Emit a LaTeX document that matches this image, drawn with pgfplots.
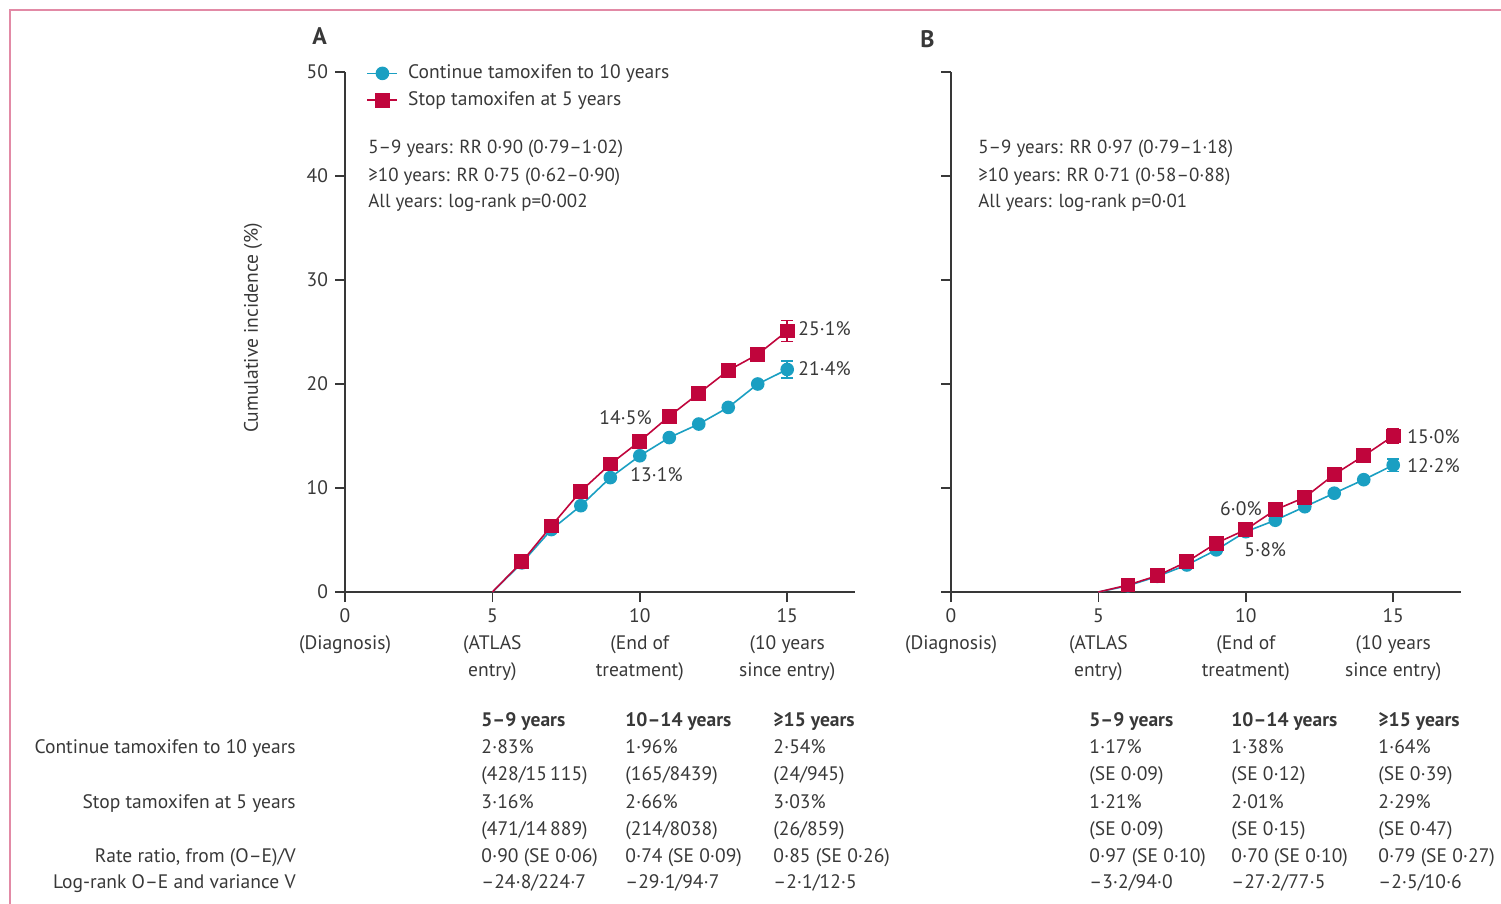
\documentclass[border=0pt]{standalone}
\usepackage{fontspec}
\setmainfont{PT Sans}
\usepackage{pgfplots}
\pgfplotsset{compat=1.18}
\definecolor{cblue}{HTML}{1A9FC2}
\definecolor{cred}{HTML}{C0053C}
\definecolor{txt}{HTML}{383838}
\definecolor{framec}{HTML}{E28AA6}
\newcommand{\fs}{\fontsize{9.8}{13.5}\selectfont}
\newcommand{\fa}{\fontsize{9.5}{13.5}\selectfont}
\pgfplotsset{
  myax/.style={
    scale only axis, width=255bp, height=260bp,
    xmin=0, xmax=17.3, ymin=0, ymax=50,
    axis lines=left, axis line style={txt, -, line width=0.8bp},
    tick align=outside, major tick length=5bp,
    tick style={txt, line width=0.8bp},
    xtick={0,5,10,15}, ytick={0,10,20,30,40,50},
    xticklabels={{0\\(Diagnosis)},{5\\(ATLAS\\entry)},{10\\(End of\\treatment)},{15\\(10 years\\since entry)}},
    xticklabel style={align=center, font=\fs, text=txt},
    yticklabel style={font=\fs, text=txt},
    clip=false, anchor=south west,
    legend image code/.code={\draw[##1, mark indices={2}] plot coordinates {(0bp,0bp) (7.5bp,0bp) (15bp,0bp)};},
  },
  blueplot/.style={cblue, line width=0.8bp, mark=*, mark size=3bp, mark indices={2,3,4,5,6,7,8,9,10,11}, mark options={fill=cblue, draw=cblue, solid}},
  redplot/.style={cred, line width=0.8bp, mark=square*, mark size=3.3bp, mark indices={2,3,4,5,6,7,8,9,10,11}, mark options={fill=cred, draw=cred, solid}},
  errb/.style={draw=none, mark=none, forget plot, error bars/.cd, y dir=both, y explicit, error bar style={#1, line width=0.8bp}, error mark options={#1, rotate=90, mark size=3bp, line width=0.8bp}},
}
\begin{document}
\begin{tikzpicture}[x=1bp,y=1bp]
\useasboundingbox (0,0) rectangle (750.5,-452);
\draw[framec, line width=1.2bp] (5,-452) -- (5,-5) -- (750.5,-5);

% Panel A
\begin{axis}[myax, at={(172.5bp,-296bp)},
  yticklabels={0,10,20,30,40,50},
  legend style={at={(axis cs:0.72,51.1)}, anchor=north west, draw=none, fill=none, font=\fs, text=txt, row sep=1bp, inner sep=0pt,
    /tikz/every odd column/.append style={column sep=3bp}},
  legend cell align=left]
\addplot[errb=cblue] coordinates {(15,21.4) +- (0,0.8)};
\addplot[errb=cred] coordinates {(15,25.1) +- (0,1.0)};
\addplot[blueplot] coordinates {(5,0) (6,2.8) (7,6.0) (8,8.3) (9,11.0) (10,13.1) (11,14.85) (12,16.15) (13,17.75) (14,20.0) (15,21.4)};
\addlegendentry{Continue tamoxifen to 10 years}
\addplot[redplot] coordinates {(5,0) (6,2.9) (7,6.35) (8,9.7) (9,12.3) (10,14.5) (11,16.9) (12,19.1) (13,21.3) (14,22.85) (15,25.1)};
\addlegendentry{Stop tamoxifen at 5 years}
\end{axis}

% Panel B
\begin{axis}[myax, at={(475.5bp,-296bp)}, yticklabels={{},{},{},{},{},{}}]
\addplot[errb=cblue] coordinates {(15,12.2) +- (0,0.6)};
\addplot[errb=cred] coordinates {(15,15.0) +- (0,0.7)};
\addplot[blueplot] coordinates {(5,0) (6,0.6) (7,1.5) (8,2.6) (9,4.05) (10,5.8) (11,6.9) (12,8.2) (13,9.5) (14,10.8) (15,12.2)};
\addplot[redplot] coordinates {(5,0) (6,0.67) (7,1.57) (8,2.9) (9,4.7) (10,6.0) (11,7.9) (12,9.1) (13,11.3) (14,13.1) (15,15.0)};
\end{axis}

\begin{scope}[every node/.style={text=txt, font=\fs, inner sep=0pt}]
% panel letters
\node[anchor=base west, font=\fontsize{12}{14}\selectfont\bfseries] at (156,-22.5) {A};
\node[anchor=base west, font=\fontsize{12}{14}\selectfont\bfseries] at (460,-24) {B};
% y label
\node[rotate=90] at (126.5,-164) {Cumulative incidence (\%)};
% annotations A
\node[anchor=base west, font=\fa] at (184,-77) {5–9 years: RR 0·90 (0·79–1·02)};
\node[anchor=base west, font=\fa] at (184,-91) {≥10 years: RR 0·75 (0·62–0·90)};
\node[anchor=base west, font=\fa] at (184,-104) {All years: log-rank p=0·002};
% annotations B
\node[anchor=base west, font=\fa] at (489,-77) {5–9 years: RR 0·97 (0·79–1·18)};
\node[anchor=base west, font=\fa] at (489,-91) {≥10 years: RR 0·71 (0·58–0·88)};
\node[anchor=base west, font=\fa] at (489,-104) {All years: log-rank p=0·01};
% curve labels
\node[anchor=base west] at (399,-168) {25·1\%};
\node[anchor=base west] at (399,-188) {21·4\%};
\node[anchor=base east] at (326,-212.5) {14·5\%};
\node[anchor=base west] at (315,-241) {13·1\%};
\node[anchor=base west] at (703.5,-222) {15·0\%};
\node[anchor=base west] at (703.5,-236.5) {12·2\%};
\node[anchor=base east] at (631,-258) {6·0\%};
\node[anchor=base west] at (622,-278.5) {5·8\%};
% table row labels
\node[anchor=base east] at (148,-376.5) {Continue tamoxifen to 10 years};
\node[anchor=base east] at (148,-404) {Stop tamoxifen at 5 years};
\node[anchor=base east] at (148,-431) {Rate ratio, from (O–E)/V};
\node[anchor=base east] at (148,-444) {Log-rank O–E and variance V};
% headers
\foreach \x/\t in {240.5/{5–9 years}, 312.5/{10–14 years}, 386.5/{≥15 years}, 544.5/{5–9 years}, 615.5/{10–14 years}, 689/{≥15 years}}
  \node[anchor=base west, font=\fs\bfseries] at (\x,-363.5) {\t};
% A columns
\foreach \y/\t in {-376.5/{2·83\%}, -390/{(428/15\,115)}, -404/{3·16\%}, -417.5/{(471/14\,889)}, -431/{0·90 (SE 0·06)}, -444/{–24·8/224·7}}
  \node[anchor=base west] at (240.5,\y) {\t};
\foreach \y/\t in {-376.5/{1·96\%}, -390/{(165/8439)}, -404/{2·66\%}, -417.5/{(214/8038)}, -431/{0·74 (SE 0·09)}, -444/{–29·1/94·7}}
  \node[anchor=base west] at (312.5,\y) {\t};
\foreach \y/\t in {-376.5/{2·54\%}, -390/{(24/945)}, -404/{3·03\%}, -417.5/{(26/859)}, -431/{0·85 (SE 0·26)}, -444/{–2·1/12·5}}
  \node[anchor=base west] at (386.5,\y) {\t};
% B columns
\foreach \y/\t in {-376.5/{1·17\%}, -390/{(SE 0·09)}, -404/{1·21\%}, -417.5/{(SE 0·09)}, -431/{0·97 (SE 0·10)}, -444/{–3·2/94·0}}
  \node[anchor=base west] at (544.5,\y) {\t};
\foreach \y/\t in {-376.5/{1·38\%}, -390/{(SE 0·12)}, -404/{2·01\%}, -417.5/{(SE 0·15)}, -431/{0·70 (SE 0·10)}, -444/{–27·2/77·5}}
  \node[anchor=base west] at (615.5,\y) {\t};
\foreach \y/\t in {-376.5/{1·64\%}, -390/{(SE 0·39)}, -404/{2·29\%}, -417.5/{(SE 0·47)}, -431/{0·79 (SE 0·27)}, -444/{–2·5/10·6}}
  \node[anchor=base west] at (689,\y) {\t};
\end{scope}
\end{tikzpicture}
\end{document}
